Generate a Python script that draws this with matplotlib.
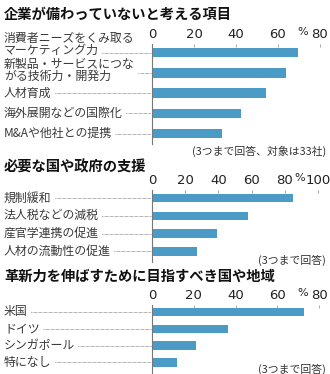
import matplotlib
matplotlib.use("Agg")
import matplotlib.pyplot as plt
import matplotlib.transforms as mtransforms

# データ(%)
p1_labels = ["消費者ニーズをくみ取る\nマーケティング力", "新製品・サービスにつな\nがる技術力・開発力",
             "人材育成", "海外展開などの国際化", "M&Aや他社との提携"]
p1_values = [69.7, 63.6, 54.5, 42.4, 33.3]
p1_ticks = [0, 20, 40, 60, 80]

p2_labels = ["規制緩和", "法人税などの減税", "産官学連携の促進", "人材の流動性の促進"]
p2_values = [84.8, 57.6, 39.4, 27.3]
p2_ticks = [0, 20, 40, 60, 80, 100]

p3_labels = ["米国", "ドイツ", "シンガポール", "特になし"]
p3_values = [72.7, 36.4, 21.2, 12.1]
p3_ticks = [0, 20, 40, 60, 80]

titles = ["企業が備わっていないと考える項目", "必要な国や政府の支援", "革新力を伸ばすために目指すべき国や地域"]
notes = ["(3つまで回答、対象は33社)", "(3つまで回答)", "(3つまで回答)"]

JP = ["Noto Sans CJK JP", "DejaVu Sans"]
NUM = ["Liberation Sans Narrow", "DejaVu Sans Condensed", "DejaVu Sans"]
BAR = "#4b9bc7"
W, H = 330, 374

fig = plt.figure(figsize=(W / 100, H / 100), dpi=100)
over = fig.add_axes([0, 0, 1, 1])
over.set_xlim(0, W)
over.set_ylim(H, 0)
over.axis("off")


def px_axes(x0, x1, y0, y1):
    # ピクセル座標(上から)で軸を作る
    return fig.add_axes([x0 / W, 1 - y1 / H, (x1 - x0) / W, (y1 - y0) / H])


def panel(labels, values, ticks, title, note, title_y, top, bottom, first_c, step, xmax, xr,
          pct_x, note_y, bar_px, shift=None):
    n = len(values)
    ax = px_axes(152, xr, top, bottom)
    ax.set_zorder(2)
    ax.patch.set_alpha(0)
    ax.barh(range(n), values, height=bar_px / step, color=BAR)
    ax.set_xlim(0, xmax)
    ax.set_ylim((bottom - first_c) / step, (top - first_c) / step)
    for s in ["top", "right", "bottom"]:
        ax.spines[s].set_visible(False)
    ax.spines["left"].set_color("#777777")
    ax.spines["left"].set_linewidth(0.8)
    ax.set_yticks([])
    ax.set_xticks(ticks)
    ax.xaxis.tick_top()
    ax.tick_params(axis="x", direction="in", length=2.5, width=0.6, color="#999999",
                   labelsize=9.5, labelcolor="#222222", pad=2.5)
    for t in ax.get_xticklabels():
        t.set_family(NUM)
    over.text(pct_x, top - 12, "%", fontsize=8, color="#222222", family=NUM, ha="center", va="center")
    over.text(4, title_y, title, fontsize=10.3, fontweight="bold", family=JP, color="#111111", va="center")
    over.text(326, note_y, note, fontsize=7.8, family=JP, color="#333333", ha="right", va="center")
    tr = mtransforms.blended_transform_factory(over.transData, ax.transData)
    if shift is None:
        shift = [0] * n
    texts = []
    for i, lab in enumerate(labels):
        lines = lab.split("\n")
        m = len(lines)
        group = []
        for k, line in enumerate(lines):
            dy = shift[i] + (k - (m - 1) / 2) * 12
            t = over.text(4, i + dy / step, line, transform=tr, fontsize=8.6, family=JP,
                          color="#3a3a3a", va="center")
            group.append((t, dy))
        texts.append(group)
    return ax, tr, texts


panels = [
    panel(p1_labels, p1_values, p1_ticks, titles[0], notes[0], 15, 44, 143.5, 52.5, 20.25, 80, 320,
          303, 151, 9.5, shift=[-8, -2, 0, 0, 0]),
    panel(p2_labels, p2_values, p2_ticks, titles[1], notes[1], 167, 190, 262, 198, 17.8, 100, 318,
          300, 260, 8.5),
    panel(p3_labels, p3_values, p3_ticks, titles[2], notes[2], 277, 305, 374, 312, 16.8, 80, 319,
          303, 369, 8.5),
]

fig.canvas.draw()
r = fig.canvas.get_renderer()
for ax, tr, texts in panels:
    for i, group in enumerate(texts):
        # 棒の高さに近い行の右端から点線を引く
        near = [t for t, dy in group if abs(dy) < 9]
        x_end = max(t.get_window_extent(r).x1 for t in near) + 3
        over.plot([x_end, 151], [i, i], transform=tr, color="#555555",
                  lw=0.6, ls=(0, (0.6, 0.9)))

fig.savefig("out.png", dpi=100)
